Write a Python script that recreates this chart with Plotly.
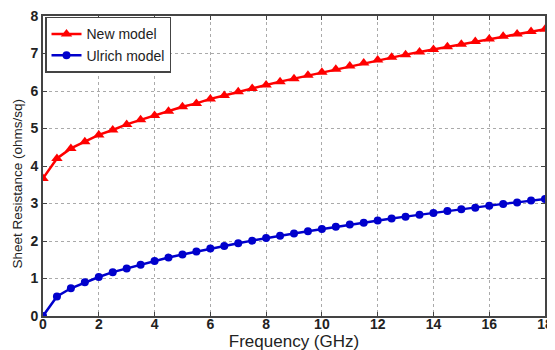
import plotly.graph_objects as go

freq = [i * 0.5 for i in range(37)]
new_model = [3.67, 4.20, 4.47, 4.65, 4.83, 4.96, 5.11, 5.23, 5.35, 5.46, 5.58, 5.67, 5.79,
             5.88, 5.98, 6.07, 6.16, 6.25, 6.33, 6.42, 6.50, 6.58, 6.67, 6.75, 6.83,
             6.90, 6.97, 7.04, 7.11, 7.18, 7.25, 7.32, 7.39, 7.46, 7.52, 7.59, 7.65]
ulrich_model = [0.0, 0.52, 0.74, 0.90, 1.04, 1.17, 1.27, 1.37, 1.47, 1.56, 1.64, 1.72, 1.80,
                1.87, 1.94, 2.01, 2.08, 2.14, 2.20, 2.26, 2.32, 2.38, 2.44, 2.49, 2.55,
                2.60, 2.65, 2.70, 2.75, 2.80, 2.85, 2.89, 2.94, 2.99, 3.03, 3.08, 3.12]
x_ticks = [0, 2, 4, 6, 8, 10, 12, 14, 16, 18]
y_ticks = [0, 1, 2, 3, 4, 5, 6, 7, 8]

fig = go.Figure()
fig.add_trace(go.Scatter(x=freq, y=new_model, mode="lines+markers", name="New model",
                         line=dict(color="#ff0000", width=2.5),
                         marker=dict(symbol="triangle-up", size=10, color="#ff0000")))
fig.add_trace(go.Scatter(x=freq, y=ulrich_model, mode="lines+markers", name="Ulrich model",
                         line=dict(color="#0000cc", width=2.5),
                         marker=dict(symbol="circle", size=8, color="#0000cc")))

axis_common = dict(showline=True, linecolor="#444", linewidth=2, mirror="ticks",
                   ticks="inside", ticklen=4, tickcolor="#444",
                   showgrid=True, gridcolor="#aaa", griddash="dot", gridwidth=1,
                   zeroline=False, automargin=False, ticklabeloverflow="allow",
                   tickfont=dict(family="Liberation Sans", size=14, color="#222", weight="bold"))

fig.update_layout(
    width=555, height=350,
    margin=dict(l=35, r=18, t=8, b=42),
    paper_bgcolor="white", plot_bgcolor="white",
    font=dict(family="Liberation Sans", color="#222"),
    showlegend=True,
    legend=dict(x=0.004, y=0.997, xanchor="left", yanchor="top",
                bgcolor="white", bordercolor="#444", borderwidth=1.5,
                font=dict(family="Liberation Sans", size=14, color="#222"),
                tracegroupgap=0, itemwidth=30),
    annotations=[dict(text="Sheet Resistance (ohms/sq)", textangle=-90,
                      xref="paper", yref="paper", x=-0.051, y=0.443,
                      xanchor="center", yanchor="middle", showarrow=False,
                      font=dict(family="Liberation Sans", size=13.5, color="#222"))],
)
fig.update_xaxes(range=[0, 18], tickvals=x_ticks, **axis_common,
                 ticklabelstandoff=-6,
                 title=dict(text="Frequency (GHz)", standoff=0,
                            font=dict(family="Liberation Sans", size=17, color="#222")))
fig.update_yaxes(range=[0, 8], tickvals=y_ticks, **axis_common)

fig.write_html("out.html")
